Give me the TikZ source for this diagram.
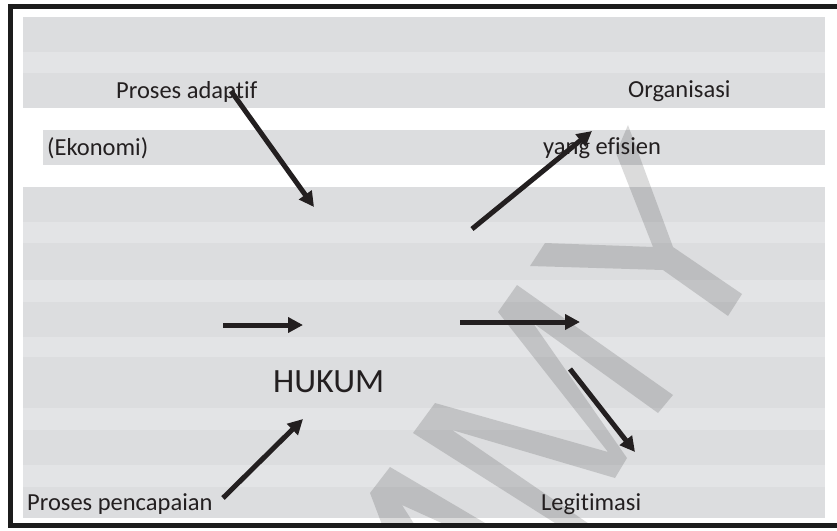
\documentclass[tikz,border=0pt]{standalone}
\usepackage{fontspec}
\setmainfont[RawFeature={-liga;-clig;-calt;-dlig}]{Carlito}
\usetikzlibrary{arrows.meta}
\definecolor{banddark}{RGB}{220,221,223}
\definecolor{bandlight}{RGB}{227,228,230}
\definecolor{ink}{RGB}{35,31,32}
\definecolor{framec}{RGB}{28,28,28}
\begin{document}
\begin{tikzpicture}[x=1pt,y=-1pt,
  lbl/.style={font=\fontsize{24.5}{28}\selectfont, text=ink, inner sep=0pt, anchor=base west},
  big/.style={font=\fontsize{34}{40}\selectfont},
  arr/.style={line width=5pt, draw=ink, -{Triangle[length=15pt,width=15pt]}},
  wm/.style={fill=black, fill opacity=0.14}]
\useasboundingbox (0,0) rectangle (837,530);
% background bands
\fill[banddark] (23,17) rectangle (825,108);
\fill[bandlight] (23,52) rectangle (825,73);
\fill[banddark] (43,130) rectangle (825,165);
\fill[banddark] (23,187) rectangle (825,518);
\foreach \a/\b in {222/243, 280/302, 337/357, 408/430, 465/487}
  \fill[bandlight] (23,\a) rectangle (825,\b);
% watermark
\begin{scope}
  \clip (13,9) rectangle (837,523);
  \fill[wm] (616,153) -- (628,125) -- (673,247) -- (742,294) -- (728,316)
     -- (663,270) -- (530,266) -- (545,243) -- (653,247) -- cycle;
  \fill[wm] (517,285) -- (673,395) -- (658,413) -- (533,323) -- (627,458)
     -- (615,478) -- (452,430) -- (598,530) -- (566,530) -- (413,433)
     -- (435,403) -- (608,452) -- (498,312) -- cycle;
  \fill[wm] (390,467) -- (497,530) -- (457,530) -- (402,505) -- (418,530)
     -- (384,530) -- (370,493) -- cycle;
\end{scope}
% labels
\node[lbl] (pa) at (116,98) {Proses adaptif};
\node[lbl] (org) at (628,97) {Organisasi};
\node[lbl] (eko) at (47,155) {(Ekonomi)};
\node[lbl] (ye) at (543,154) {yang efisien};
\node[lbl, big] (hk) at (273,392) {HUKUM};
\node[lbl] (pp) at (27,510) {Proses pencapaian};
\node[lbl] (lg) at (541,510) {Legitimasi};
% arrow end points
\coordinate (a1s) at (231,91);  \coordinate (a1e) at (314,207);
\coordinate (a2s) at (472,229); \coordinate (a2e) at (592,131);
\coordinate (a3s) at (223,325); \coordinate (a3e) at (303,325);
\coordinate (a4s) at (460,322); \coordinate (a4e) at (580,322);
\coordinate (a5s) at (570,369); \coordinate (a5e) at (635,452);
\coordinate (a6s) at (223,498); \coordinate (a6e) at (303,419);
\draw[arr] (a1s) -- (a1e);
\draw[arr] (a2s) -- (a2e);
\draw[arr] (a3s) -- (a3e);
\draw[arr] (a4s) -- (a4e);
\draw[arr] (a5s) -- (a5e);
\draw[arr] (a6s) -- (a6e);
% frame
\draw[framec, line width=5pt, line join=miter] (837,6.5) -- (10.5,6.5) -- (10.5,525.5) -- (837,525.5);
\end{tikzpicture}
\end{document}
